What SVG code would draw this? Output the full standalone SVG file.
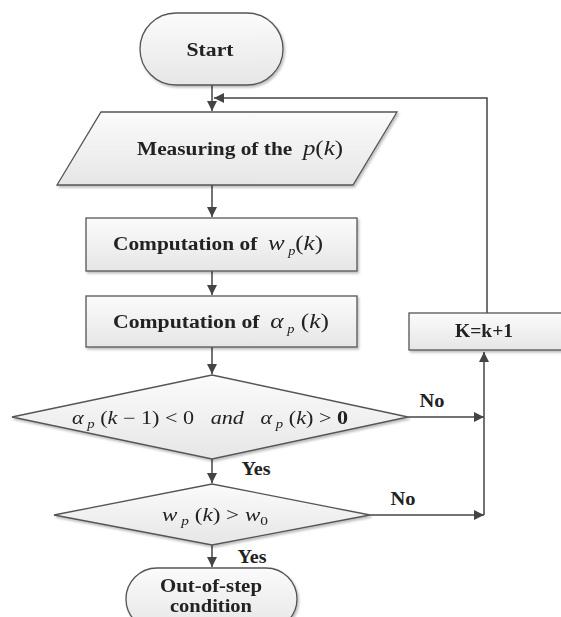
<svg xmlns="http://www.w3.org/2000/svg" width="561" height="617" viewBox="0 0 561 617">
<style>
.shape{fill:url(#g);stroke:#555;stroke-width:1.3}
.lbl{font-family:"Liberation Serif",serif;font-weight:bold;font-size:18px;fill:#222;text-anchor:middle}
.math{font-family:"Liberation Serif",serif;font-style:italic;font-weight:normal}
.rm{font-style:normal}
.sub{font-size:12px}
.conn{fill:none;stroke:#444;stroke-width:1.5}
</style>
<defs>
<linearGradient id="g" x1="0" y1="0" x2="0" y2="1">
<stop offset="0" stop-color="#fbfbfb"/>
<stop offset="1" stop-color="#e6e6e6"/>
</linearGradient>
<filter id="sh" x="-5%" y="-5%" width="115%" height="125%">
<feDropShadow dx="1.5" dy="2" stdDeviation="1.2" flood-color="#000" flood-opacity="0.25"/>
</filter>
<marker id="ah" viewBox="0 0 10 10" refX="10" refY="5" markerWidth="11" markerHeight="10" markerUnits="userSpaceOnUse" orient="auto">
<path d="M0,0 L10,5 L0,10 Z" fill="#444"/>
</marker>
</defs>

<g id="connectors">
<line class="conn" x1="212" y1="85" x2="212" y2="111" marker-end="url(#ah)"/>
<path class="conn" d="M487,313 V98 H214" marker-end="url(#ah)"/>
<line class="conn" x1="212" y1="185" x2="212" y2="217" marker-end="url(#ah)"/>
<line class="conn" x1="212" y1="271" x2="212" y2="295" marker-end="url(#ah)"/>
<line class="conn" x1="212" y1="347" x2="212" y2="374" marker-end="url(#ah)"/>
<line class="conn" x1="212" y1="459" x2="212" y2="483" marker-end="url(#ah)"/>
<line class="conn" x1="212" y1="545" x2="212" y2="567" marker-end="url(#ah)"/>
<line class="conn" x1="408" y1="417" x2="484" y2="417" marker-end="url(#ah)"/>
<line class="conn" x1="370" y1="515" x2="484" y2="515" marker-end="url(#ah)"/>
<line class="conn" x1="484" y1="515" x2="484" y2="352" marker-end="url(#ah)"/>
<text class="lbl" x="432" y="407" textLength="25" lengthAdjust="spacingAndGlyphs">No</text>
<text class="lbl" x="403" y="505" textLength="25" lengthAdjust="spacingAndGlyphs">No</text>
<text class="lbl" x="256" y="475" textLength="29" lengthAdjust="spacingAndGlyphs">Yes</text>
<text class="lbl" x="252" y="563" textLength="29" lengthAdjust="spacingAndGlyphs">Yes</text>
</g>

<g id="start" filter="url(#sh)">
<rect class="shape" x="140" y="13" width="143" height="72" rx="36" ry="36"/>
<text class="lbl" x="210" y="56" textLength="47" lengthAdjust="spacingAndGlyphs">Start</text>
</g>

<g id="measure" filter="url(#sh)">
<polygon class="shape" points="101,112 397,112 353,185 57,185"/>
<text class="lbl" x="240" y="155" textLength="206" lengthAdjust="spacingAndGlyphs" xml:space="preserve">Measuring of the  <tspan class="math" font-size="21">p</tspan><tspan class="math rm" font-size="21">(</tspan><tspan class="math" font-size="21">k</tspan><tspan class="math rm" font-size="21">)</tspan></text>
</g>

<g id="comp-w" filter="url(#sh)">
<rect class="shape" x="86" y="218" width="271" height="53"/>
<text class="lbl" x="218" y="250" textLength="210" lengthAdjust="spacingAndGlyphs" xml:space="preserve">Computation of  <tspan class="math" font-size="21">w</tspan><tspan class="math sub" dy="5"> p</tspan><tspan class="math rm" font-size="21" dy="-5">(</tspan><tspan class="math" font-size="21">k</tspan><tspan class="math rm" font-size="21">)</tspan></text>
</g>

<g id="comp-a" filter="url(#sh)">
<rect class="shape" x="86" y="296" width="271" height="51"/>
<text class="lbl" x="221" y="328" textLength="216" lengthAdjust="spacingAndGlyphs" xml:space="preserve">Computation of  <tspan class="math" font-size="21">α</tspan><tspan class="math sub" dy="5"> p</tspan><tspan class="math rm" font-size="21" dy="-5"> (</tspan><tspan class="math" font-size="21">k</tspan><tspan class="math rm" font-size="21">)</tspan></text>
</g>

<g id="kinc" filter="url(#sh)">
<rect class="shape" x="409" y="313" width="160" height="37"/>
<text class="lbl" x="484" y="337" textLength="58" lengthAdjust="spacingAndGlyphs">K=k+1</text>
</g>

<g id="cond1" filter="url(#sh)">
<polygon class="shape" points="212,375 408,417 212,459 12,417"/>
<text class="lbl math" x="210" y="424" font-size="18" textLength="276" lengthAdjust="spacingAndGlyphs" xml:space="preserve"><tspan>α</tspan><tspan class="sub" dy="4"> p</tspan><tspan class="rm" dy="-4"> (</tspan><tspan>k</tspan><tspan class="rm"> − 1) &lt; 0   </tspan><tspan>and</tspan><tspan class="rm">   </tspan><tspan>α</tspan><tspan class="sub" dy="4"> p</tspan><tspan class="rm" dy="-4"> (</tspan><tspan>k</tspan><tspan class="rm">) &gt; </tspan><tspan class="rm" font-weight="bold">0</tspan></text>
</g>

<g id="cond2" filter="url(#sh)">
<polygon class="shape" points="212,484 370,515 212,545 54,515"/>
<text class="lbl math" x="215" y="521" font-size="19" textLength="106" lengthAdjust="spacingAndGlyphs" xml:space="preserve"><tspan>w</tspan><tspan class="sub" dy="4"> p</tspan><tspan class="rm" dy="-4"> (</tspan><tspan>k</tspan><tspan class="rm">) &gt; </tspan><tspan>w</tspan><tspan class="rm sub" dy="4">0</tspan></text>
</g>

<g id="outofstep" filter="url(#sh)">
<rect class="shape" x="126" y="568" width="171" height="62" rx="31" ry="31"/>
<text class="lbl" x="211" y="592" textLength="102" lengthAdjust="spacingAndGlyphs">Out-of-step</text>
<text class="lbl" x="211" y="612" textLength="82" lengthAdjust="spacingAndGlyphs">condition</text>
</g>
</svg>
